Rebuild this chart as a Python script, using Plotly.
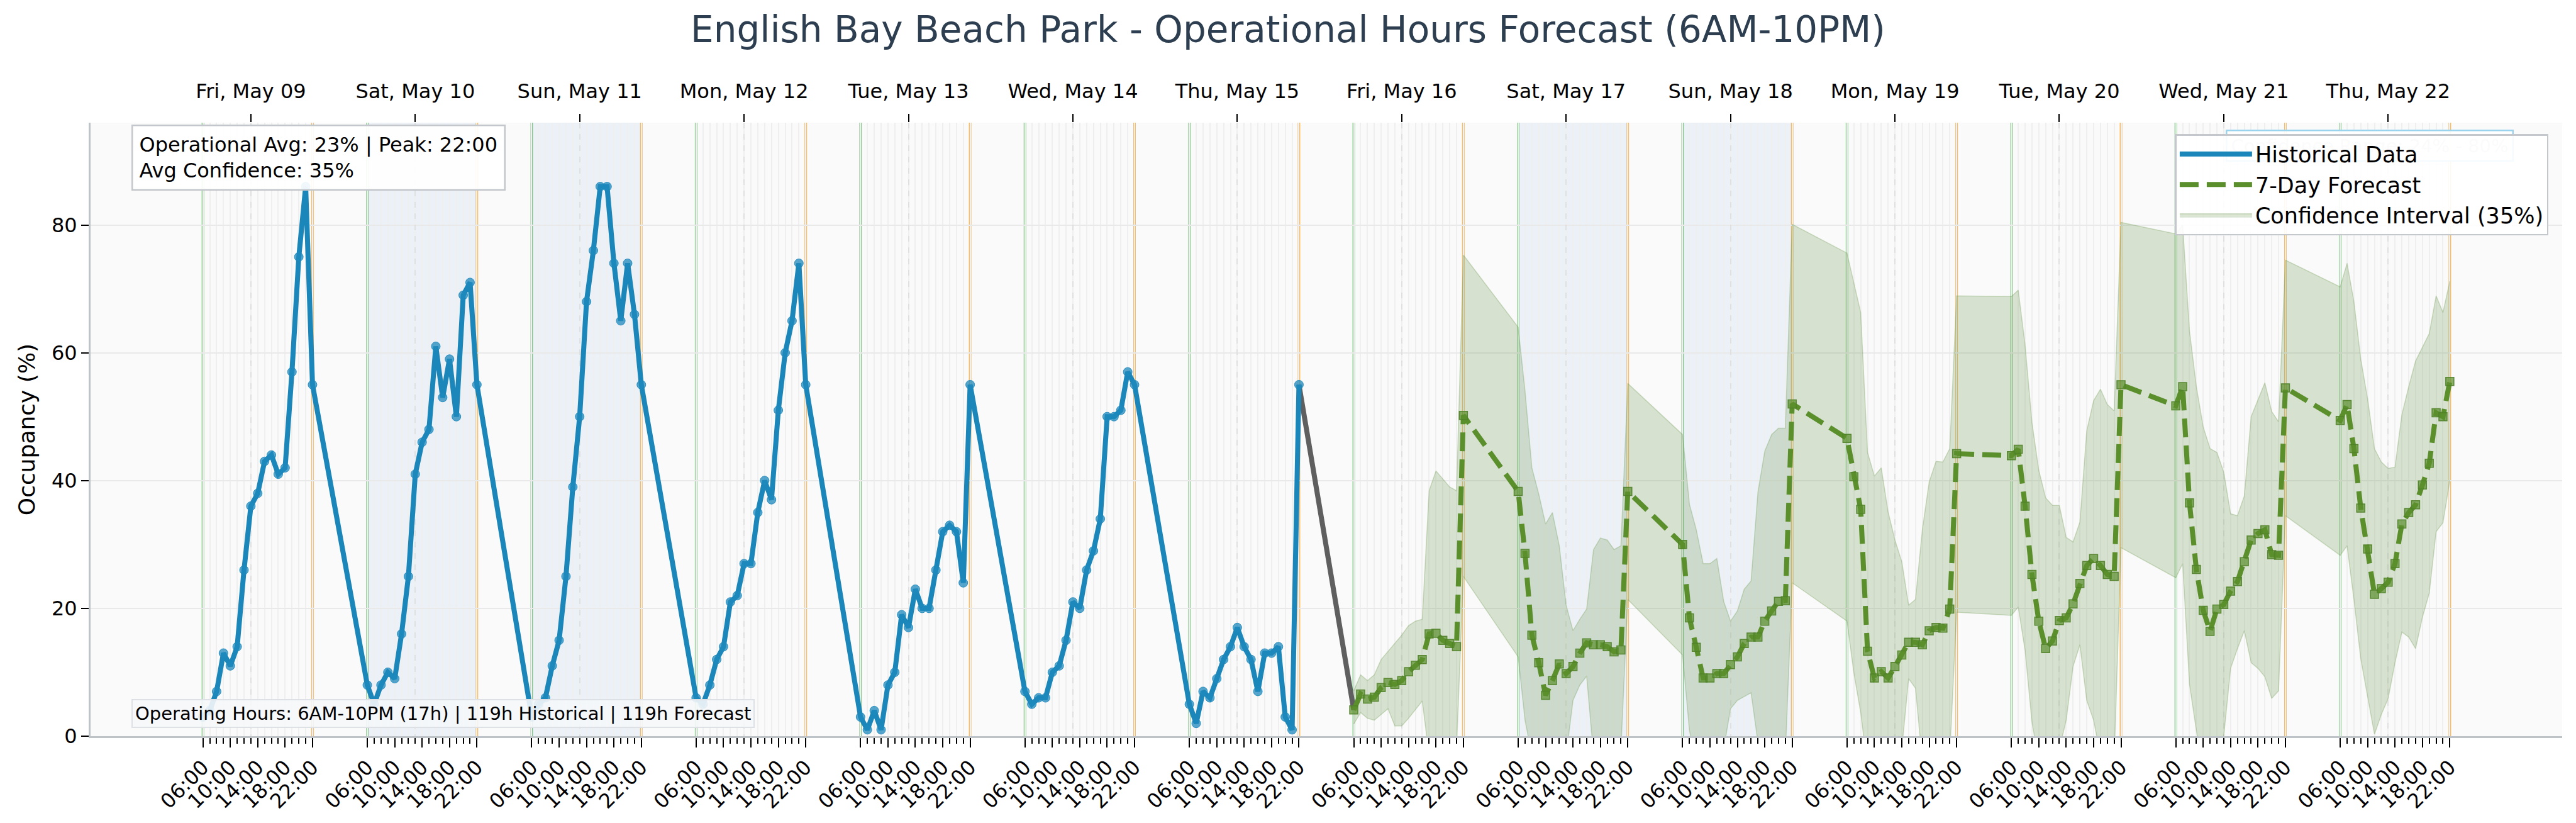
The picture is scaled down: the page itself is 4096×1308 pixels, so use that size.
import plotly.graph_objects as go
from datetime import datetime, timedelta

# ---------------- data ----------------
START_DAY = datetime(2025, 5, 9)
HOURS = list(range(6, 23))          # 06:00 .. 22:00 (17 operating hours)
N_HIST_DAYS = 7
N_FC_DAYS = 7

hist_values = [
    3, 4, 7, 13, 11, 14, 26, 36, 38, 43, 44, 41, 42, 57, 75, 86, 55,
    8, 5, 8, 10, 9, 16, 25, 41, 46, 48, 61, 53, 59, 50, 69, 71, 55,
    3, 5, 6, 11, 15, 25, 39, 50, 68, 76, 86, 86, 74, 65, 74, 66, 55,
    6, 5, 8, 12, 14, 21, 22, 27, 27, 35, 40, 37, 51, 60, 65, 74, 55,
    3, 1, 4, 1, 8, 10, 19, 17, 23, 20, 20, 26, 32, 33, 32, 24, 55,
    7, 5, 6, 6, 10, 11, 15, 21, 20, 26, 29, 34, 50, 50, 51, 57, 55,
    5, 2, 7, 6, 9, 12, 14, 17, 14, 12, 7, 13, 13, 14, 3, 1, 55,
]

forecast_values = [
    4.1, 6.6, 5.8, 6.1, 7.6, 8.4, 8.1, 8.7, 10.1, 11.1, 12, 16, 16.1, 15, 14.5, 14, 50.2,
    38.3, 28.6, 15.8, 11.5, 6.4, 8.7, 11.3, 9.8, 10.9, 13, 14.6, 14.3, 14.3, 14, 13.2, 13.5, 38.3,
    30, 18.5, 13.9, 9.1, 9.1, 9.8, 9.8, 11.2, 12.4, 14.5, 15.5, 15.5, 18, 19.6, 21.1, 21.2, 52,
    46.6, 40.6, 35.5, 13.3, 9.1, 10.1, 9.1, 10.9, 12.7, 14.7, 14.7, 14.3, 16.5, 17, 16.9, 19.9, 44.2,
    43.9, 44.9, 36, 25.3, 18, 13.7, 14.9, 18.1, 18.5, 20.7, 23.9, 26.7, 27.8, 26.7, 25.3, 25, 55,
    51.7, 54.7, 36.5, 26.1, 19.7, 16.4, 19.9, 20.6, 22.7, 24.2, 27.3, 30.7, 31.7, 32.3, 28.4, 28.3, 54.5,
    49.4, 51.9, 45, 35.7, 29.3, 22.2, 23.1, 24.1, 27, 33.2, 35, 36.2, 39.3, 42.7, 50.6, 50, 55.5,
]

upper_values = [
    7.1, 9.6, 8.7, 9.6, 12, 13.3, 14.5, 15.8, 17.3, 18, 18.3, 38.4, 41.5, 40.2, 39, 38.4, 75.3,
    64, 54, 42, 37.9, 33.2, 35, 29.8, 20.5, 16.5, 18.3, 19.9, 29.2, 31, 30.7, 29.2, 29.8, 55.2,
    47.2, 36.3, 32.3, 27, 27, 27.8, 21.1, 18, 19.6, 23, 24.3, 38.2, 44.6, 47.2, 48.2, 48.2, 80.1,
    75.6, 70.8, 66.3, 44.4, 40.7, 42, 35.1, 30.7, 27.3, 20.5, 21.4, 32.3, 39.8, 43, 42.9, 45, 68.9,
    68.8, 69.8, 61.2, 49.1, 41.6, 37.3, 36.1, 36.1, 31.1, 30.4, 33.5, 47.8, 52.5, 54.3, 51.9, 50.9, 80.4,
    78.6, 80, 63.4, 54.7, 48.4, 45, 44.4, 41.3, 34.8, 34.5, 37.6, 50, 52.7, 55.3, 50.8, 49.2, 74.5,
    70.3, 74, 68, 59, 52.8, 45, 42.9, 41.9, 42.1, 50.3, 54.7, 58.7, 60.9, 63, 68.9, 66.3, 71.2,
]

lower_values = [
    1.9, 3.7, 2.8, 2.5, 3.4, 4.3, 1.6, 1.6, 2.8, 4.1, 5.5, -3, -5, -5, -4, -2, 25,
    12.4, 2.5, -3, -7, -9, -8, -6, -3, 5.6, 8, 9.4, -3, -6, -7, -6, -2, 21.4,
    12.7, 0.9, -4, -7, -8, -6, -2, 4.3, 5.6, 6.2, 6.8, -1, -5, -6, -6, -3, 24,
    18, 9.9, 3.7, -5, -9, -10, -8, -5, -2, 9, 7.5, -4, -8, -8, -6, -3, 19.4,
    18.9, 20.2, 13.4, 2.2, -4, -5, 0, -2, 2.5, 10.9, 14.3, 5.6, 2.5, -3, -6, -4, 29.5,
    24.8, 27, 8.1, 0.9, -5, -7, -4, 0, 10.6, 13.7, 16.5, 11.5, 10.6, 9.3, 5.9, 7.1, 34.5,
    28.3, 29.8, 21.4, 12.1, 6.2, 0.3, 3.4, 5.9, 11.5, 16.3, 15.5, 13.7, 18.6, 22.4, 32, 33.4, 40,
]

day_labels = ["Fri, May 09", "Sat, May 10", "Sun, May 11", "Mon, May 12", "Tue, May 13",
              "Wed, May 14", "Thu, May 15", "Fri, May 16", "Sat, May 17", "Sun, May 18",
              "Mon, May 19", "Tue, May 20", "Wed, May 21", "Thu, May 22"]
weekend_days = [1, 2, 8, 9]                  # day indices of Sat/Sun
major_hours = [6, 10, 14, 18, 22]
major_hour_labels = ["06:00", "10:00", "14:00", "18:00", "22:00"]
y_ticks = [0, 20, 40, 60, 80]
Y_MAX = 96

# ---------------- helpers ----------------
def ts(day_idx, hour):
    return (START_DAY + timedelta(days=day_idx, hours=hour)).strftime("%Y-%m-%d %H:%M")

hist_x = [ts(d, h) for d in range(N_HIST_DAYS) for h in HOURS]
fc_x = [ts(d, h) for d in range(N_HIST_DAYS, N_HIST_DAYS + N_FC_DAYS) for h in HOURS]
n_days = N_HIST_DAYS + N_FC_DAYS

first_dt = START_DAY + timedelta(hours=HOURS[0])
last_dt = START_DAY + timedelta(days=n_days - 1, hours=HOURS[-1])
pad = (last_dt - first_dt) * 0.05
x_range = [(first_dt - pad).strftime("%Y-%m-%d %H:%M:%S"), (last_dt + pad).strftime("%Y-%m-%d %H:%M:%S")]

major_vals, major_text = [], []
for d in range(n_days):
    for h, lab in zip(major_hours, major_hour_labels):
        major_vals.append(ts(d, h))
        major_text.append(lab)
all_hour_vals = hist_x + fc_x
top_vals = [ts(d, 13) for d in range(n_days)]

FONT = "DejaVu Sans"
BLUE = "#1a86b9"
GREEN = "#5a8f2c"

fig = go.Figure()

# confidence band
fig.add_trace(go.Scatter(x=fc_x, y=lower_values, mode="lines",
                         line=dict(color="rgba(95,145,60,0.28)", width=1.5),
                         showlegend=False, hoverinfo="skip"))
fig.add_trace(go.Scatter(x=fc_x, y=upper_values, mode="lines", fill="tonexty",
                         fillcolor="rgba(106,153,78,0.25)",
                         line=dict(color="rgba(95,145,60,0.28)", width=1.5),
                         name="Confidence Interval (35%)", legendrank=1003))

# transition line
fig.add_trace(go.Scatter(x=[hist_x[-1], fc_x[0]], y=[hist_values[-1], forecast_values[0]],
                         mode="lines", line=dict(color="#5f5f5f", width=8),
                         showlegend=False))

# historical
fig.add_trace(go.Scatter(x=hist_x, y=hist_values, mode="lines",
                         line=dict(color=BLUE, width=8), name="Historical Data",
                         legendrank=1001))
fig.add_trace(go.Scatter(x=hist_x, y=hist_values, mode="markers",
                         marker=dict(symbol="circle", size=14, color="rgba(30,136,188,0.75)",
                                     line=dict(color="rgba(30,136,188,0.9)", width=1)),
                         showlegend=False))

# forecast
fig.add_trace(go.Scatter(x=fc_x, y=forecast_values, mode="lines",
                         line=dict(color=GREEN, width=8, dash="30px,13px"),
                         name="7-Day Forecast", legendrank=1002))
fig.add_trace(go.Scatter(x=fc_x, y=forecast_values, mode="markers",
                         marker=dict(symbol="square", size=13, color="rgba(90,143,44,0.7)",
                                     line=dict(color="rgba(80,130,40,0.9)", width=1.5)),
                         showlegend=False))

# invisible trace for top axis
fig.add_trace(go.Scatter(x=top_vals, y=[None] * len(top_vals), xaxis="x2", mode="markers",
                         showlegend=False, hoverinfo="skip"))

shapes = []
for d in weekend_days:
    shapes.append(dict(type="rect", xref="x", yref="paper", x0=ts(d, 6), x1=ts(d, 22), y0=0, y1=1,
                       fillcolor="rgba(163,197,237,0.16)", line=dict(width=0), layer="below"))
for d in range(n_days):
    shapes.append(dict(type="line", xref="x", yref="paper", x0=ts(d, 6), x1=ts(d, 6), y0=0, y1=1,
                       line=dict(color="rgba(76,175,80,0.62)", width=4), layer="below"))
    shapes.append(dict(type="line", xref="x", yref="paper", x0=ts(d, 22), x1=ts(d, 22), y0=0, y1=1,
                       line=dict(color="rgba(255,152,0,0.62)", width=4), layer="below"))

annotations = [
    dict(text="Operational Avg: 23% | Peak: 22:00<br>Avg Confidence: 35%",
         xref="paper", yref="paper", x=0.0166, y=0.997, xanchor="left", yanchor="top",
         align="left", showarrow=False, font=dict(family=FONT, size=32, color="black"),
         bgcolor="rgba(255,255,255,0.92)", bordercolor="#c3c7cb", borderwidth=2.5, borderpad=10),
    dict(text="Operating Hours: 6AM-10PM (17h) | 119h Historical | 119h Forecast",
         xref="paper", yref="paper", x=0.0166, y=0.0133, xanchor="left", yanchor="bottom",
         align="left", showarrow=False, font=dict(family=FONT, size=29, color="black"),
         bgcolor="rgba(245,247,250,0.9)", bordercolor="#dde1e6", borderwidth=2, borderpad=4),
    dict(text="Confidence Range: 24% - 80%",
         xref="paper", yref="paper", x=0.9805, y=0.9887, xanchor="right", yanchor="top",
         showarrow=False, font=dict(family=FONT, size=29, color="#cfcfcf"),
         bgcolor="rgba(255,255,255,0.9)", bordercolor="#9ad3ee", borderwidth=2.5, borderpad=6),
]

fig.update_layout(
    width=4096, height=1308,
    margin=dict(l=144, r=22, t=195, b=138),
    paper_bgcolor="white", plot_bgcolor="#fafafa",
    font=dict(family=FONT, size=32, color="black"),
    title=dict(text="English Bay Beach Park - Operational Hours Forecast (6AM-10PM)",
               x=0.5, xanchor="center", y=1 - 47 / 1308, yanchor="middle", yref="container",
               font=dict(family=FONT, size=58, color="#2c3e50")),
    xaxis=dict(type="date", range=x_range, tickmode="array", tickvals=major_vals, ticktext=major_text,
               tickangle=-45, ticks="outside", ticklen=15, tickwidth=2, tickcolor="black",
               showgrid=True, gridcolor="#efefef", gridwidth=1.5,
               minor=dict(tickmode="array", tickvals=all_hour_vals, ticks="outside", ticklen=9,
                          tickwidth=1.5, tickcolor="black", showgrid=True, gridcolor="#efefef",
                          gridwidth=1.5),
               showline=True, linecolor="#bdc3c7", linewidth=3, zeroline=False,
               tickfont=dict(family=FONT, size=32, color="black")),
    xaxis2=dict(type="date", overlaying="x", side="top", matches="x", range=x_range,
                tickmode="array", tickvals=top_vals, ticktext=day_labels,
                ticks="outside", ticklen=13, tickwidth=1.5, tickcolor="black",
                ticklabelstandoff=12,
                showgrid=True, griddash="dash", gridcolor="#e0e0e0", gridwidth=1.5,
                showline=False, zeroline=False,
                tickfont=dict(family=FONT, size=32, color="black")),
    yaxis=dict(range=[0, Y_MAX], tickmode="array", tickvals=y_ticks, ticks="outside", ticklen=12,
               tickwidth=2, tickcolor="black", showgrid=True, gridcolor="#e9e9e9", gridwidth=1.5,
               showline=True, linecolor="#bdc3c7", linewidth=3, zeroline=False,
               title=dict(text="Occupancy (%)", standoff=16, font=dict(family=FONT, size=36)),
               tickfont=dict(family=FONT, size=32, color="black")),
    legend=dict(x=0.9945, y=0.9815, xanchor="right", yanchor="top", traceorder="normal",
                bgcolor="rgba(255,255,255,0.9)", bordercolor="#c4c8cc", borderwidth=2.5,
                font=dict(family=FONT, size=35, color="black"), itemwidth=115),
    shapes=shapes,
    annotations=annotations,
)

post = ("document.body.style.margin='0';document.body.style.overflow='hidden';"
        "var gd=document.querySelector('.plotly-graph-div');"
        "var leg=gd.querySelector('g.legend');"
        "if(leg){leg.parentNode.appendChild(leg);}")
fig.write_html("out.html", post_script=post, config={"displayModeBar": False})
